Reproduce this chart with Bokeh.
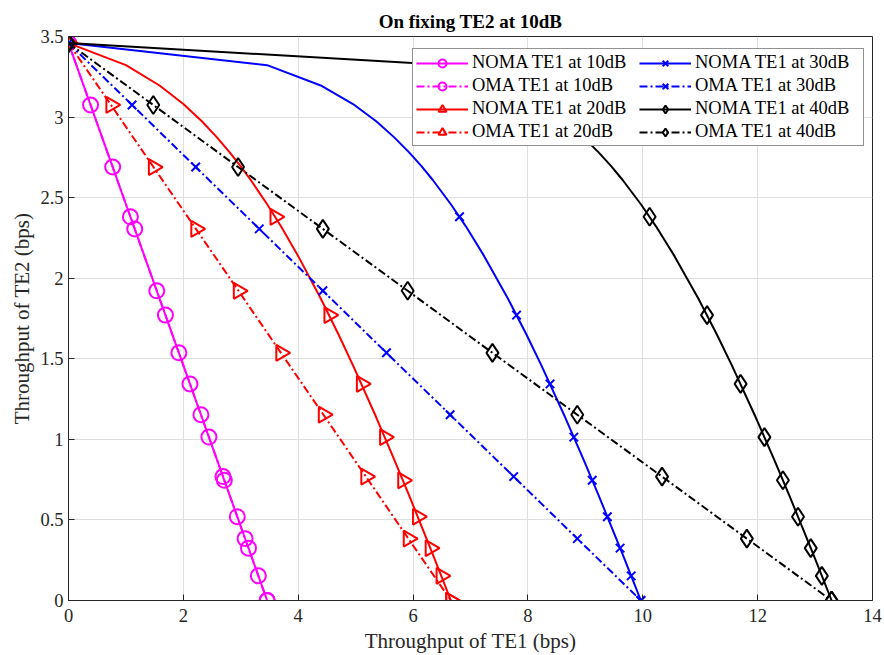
import math
from bokeh.plotting import figure
from bokeh.models import Range1d, FixedTicker, Legend, LegendItem
from bokeh.embed import file_html
from bokeh.resources import INLINE

# ---------------- data ----------------
x_ticks = [0, 2, 4, 6, 8, 10, 12, 14]
x_tick_labels = ["0", "2", "4", "6", "8", "10", "12", "14"]
y_ticks = [0, 0.5, 1, 1.5, 2, 2.5, 3, 3.5]
y_tick_labels = ["0", "0.5", "1", "1.5", "2", "2.5", "3", "3.5"]

# NOMA markers (TE2 throughput shared by all SNRs)
noma_mark_y = [3.459, 2.381, 1.771, 1.344, 1.014, 0.746, 0.520, 0.325, 0.153, 0.0]
noma_mark_x_10 = [0.0, 1.078, 1.688, 2.115, 2.445, 2.713, 2.939, 3.134, 3.306, 3.459]
noma_mark_x_20 = [0.0, 3.598, 4.537, 5.102, 5.506, 5.822, 6.080, 6.300, 6.490, 6.658]
noma_mark_x_30 = [0.0, 6.809, 7.802, 8.385, 8.799, 9.120, 9.383, 9.605, 9.798, 9.967]
noma_mark_x_40 = [0.0, 10.119, 11.119, 11.703, 12.118, 12.440, 12.703, 12.925, 13.118, 13.288]

# NOMA curves (denser points)
noma_line_y = [3.459, 3.322, 3.196, 3.081, 2.974, 2.874, 2.781, 2.694, 2.611, 2.459, 2.322,
               2.137, 1.874, 1.652, 1.459, 1.137, 0.874, 0.652, 0.459, 0.290, 0.137, 0.0]
noma_line_x_10 = [0.0, 0.138, 0.263, 0.379, 0.485, 0.585, 0.678, 0.766, 0.848, 1.0, 1.138,
                  1.322, 1.585, 1.807, 2.0, 2.322, 2.585, 2.807, 3.0, 3.170, 3.322, 3.459]
noma_line_x_20 = [0.0, 1.0, 1.585, 2.0, 2.322, 2.585, 2.807, 3.0, 3.170, 3.459, 3.700,
                  4.0, 4.392, 4.700, 4.954, 5.358, 5.672, 5.931, 6.150, 6.340, 6.508, 6.658]
noma_line_x_30 = [0.0, 3.459, 4.392, 4.954, 5.358, 5.672, 5.931, 6.150, 6.340, 6.658, 6.919,
                  7.238, 7.651, 7.972, 8.234, 8.648, 8.969, 9.231, 9.453, 9.646, 9.815, 9.967]
noma_line_x_40 = [0.0, 6.658, 7.651, 8.234, 8.648, 8.969, 9.231, 9.453, 9.646, 9.967, 10.230,
                  10.552, 10.967, 11.288, 11.551, 11.966, 12.288, 12.551, 12.773, 12.966, 13.136, 13.288]

# OMA (straight lines, markers at the same points)
oma_y = [3.459, 3.075, 2.690, 2.306, 1.922, 1.537, 1.153, 0.769, 0.384, 0.0]
oma_x_10 = [0.0, 0.384, 0.769, 1.153, 1.537, 1.922, 2.306, 2.690, 3.075, 3.459]
oma_x_20 = [0.0, 0.740, 1.480, 2.219, 2.959, 3.699, 4.439, 5.179, 5.918, 6.658]
oma_x_30 = [0.0, 1.107, 2.215, 3.322, 4.430, 5.537, 6.645, 7.752, 8.860, 9.967]
oma_x_40 = [0.0, 1.476, 2.953, 4.429, 5.906, 7.382, 8.859, 10.335, 11.812, 13.288]

labels = ["NOMA TE1 at 10dB", "OMA TE1 at 10dB", "NOMA TE1 at 20dB", "OMA TE1 at 20dB",
          "NOMA TE1 at 30dB", "OMA TE1 at 30dB", "NOMA TE1 at 40dB", "OMA TE1 at 40dB"]

# ---------------- figure ----------------
FONT = "Liberation Serif"
TXT = "#262626"

p = figure(width=884, height=655, output_backend="svg", toolbar_location=None,
           x_range=Range1d(0, 14), y_range=Range1d(0, 3.5),
           min_border_left=68, min_border_right=12, min_border_top=36, min_border_bottom=50,
           title="On fixing TE2 at 10dB")
p.title.align = "center"
p.title.text_font = FONT
p.title.text_font_size = "19px"
p.title.text_font_style = "bold"
p.title.text_color = "#000000"

p.outline_line_color = TXT
p.outline_line_width = 1
p.outline_line_alpha = 1

for ax in (p.xaxis[0], p.yaxis[0]):
    ax.major_tick_in = 6
    ax.major_tick_out = 0
    ax.minor_tick_line_color = None
    ax.axis_line_color = TXT
    ax.major_tick_line_color = TXT
    ax.major_label_text_font = FONT
    ax.major_label_text_font_size = "18.5px"
    ax.major_label_text_color = TXT
    ax.axis_label_text_font = FONT
    ax.axis_label_text_font_size = "21px"
    ax.axis_label_text_font_style = "normal"
    ax.axis_label_text_color = TXT

p.xaxis.ticker = FixedTicker(ticks=x_ticks)
p.yaxis.ticker = FixedTicker(ticks=y_ticks)
p.xaxis.major_label_overrides = {t: l for t, l in zip(x_ticks, x_tick_labels)}
p.yaxis.major_label_overrides = {t: l for t, l in zip(y_ticks, y_tick_labels)}
p.xaxis.axis_label = "Throughput of TE1 (bps)"
p.yaxis.axis_label = "Throughput of TE2 (bps)"
p.xaxis.major_label_standoff = 8
p.yaxis.major_label_standoff = 5
p.xaxis.axis_label_standoff = 4
p.yaxis.axis_label_standoff = 3

p.xgrid.ticker = FixedTicker(ticks=x_ticks)
p.ygrid.ticker = FixedTicker(ticks=y_ticks)
p.grid.grid_line_color = "#dfdfdf"
p.grid.grid_line_width = 1

LW = 2
DASH = "8 3 2 3"
items = []


def series(xl, yl, xm, ym, color, marker, size, dash, label, angle=0.0):
    lr = p.line(xl, yl, line_color=color, line_width=LW, line_dash=dash)
    sr = p.scatter(xm, ym, marker=marker, size=size, angle=angle,
                   line_color=color, line_width=LW, fill_color=None)
    items.append(LegendItem(label=label, renderers=[lr, sr]))


series(noma_line_x_10, noma_line_y, noma_mark_x_10, noma_mark_y, "#ff00ff", "circle", 15, "solid", labels[0])
series(oma_x_10, oma_y, oma_x_10, oma_y, "#ff00ff", "circle", 15, DASH, labels[1])
series(noma_line_x_20, noma_line_y, noma_mark_x_20, noma_mark_y, "#ff0000", "triangle", 16, "solid", labels[2], -math.pi / 2)
series(oma_x_20, oma_y, oma_x_20, oma_y, "#ff0000", "triangle", 16, DASH, labels[3], -math.pi / 2)
series(noma_line_x_30, noma_line_y, noma_mark_x_30, noma_mark_y, "#0000ff", "x", 12, "solid", labels[4])
series(oma_x_30, oma_y, oma_x_30, oma_y, "#0000ff", "x", 12, DASH, labels[5])
series(noma_line_x_40, noma_line_y, noma_mark_x_40, noma_mark_y, "#000000", "diamond", 18, "solid", labels[6])
series(oma_x_40, oma_y, oma_x_40, oma_y, "#000000", "diamond", 18, DASH, labels[7])

legend = Legend(items=items, location=(344, 454), ncols=2)
legend.label_text_font = FONT
legend.label_text_font_size = "18.5px"
legend.label_text_color = "#000000"
legend.glyph_width = 52
legend.glyph_height = 20
legend.label_height = 20
legend.label_width = 165
legend.label_standoff = 4
legend.spacing = 2
legend.padding = 3
legend.margin = 0
legend.border_line_color = TXT
legend.border_line_width = 1
legend.background_fill_alpha = 1
p.add_layout(legend)

open("out.html", "w").write(file_html(p, INLINE))
